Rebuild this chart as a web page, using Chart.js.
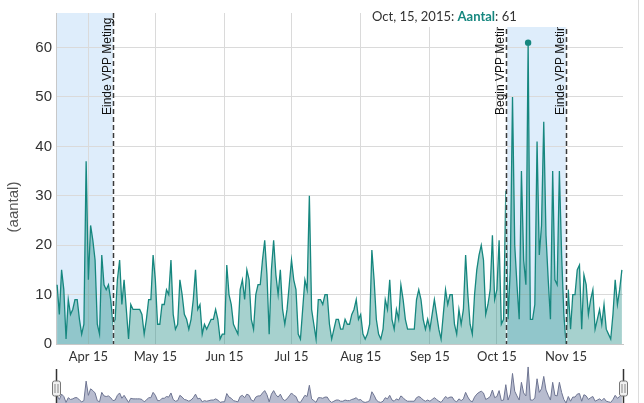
<!DOCTYPE html>
<html>
<head>
<meta charset="utf-8">
<script src="https://cdn.jsdelivr.net/npm/chart.js@4.4.0/dist/chart.umd.min.js"></script>
<style>
  html, body { margin: 0; padding: 0; background: #fff; overflow: hidden; }
  #wrap { position: relative; width: 644px; height: 403px; }
  #main { position: absolute; left: 0; top: 0; }
  #range { position: absolute; left: 0; top: 364px; }
  #edge { position: absolute; left: 638px; top: 0; width: 1px; height: 403px; background: #dcdcdc; }
</style>
</head>
<body>
<div id="wrap">
  <canvas id="main" width="644" height="364"></canvas>
  <canvas id="range" width="644" height="39"></canvas>
  <div id="edge"></div>
</div>
<script>
// daily counts, starting at startDate
const startDate = '2015-04-01';
const aantal = [
  12, 6, 15, 11, 1, 9, 6, 7, 9, 9, 5, 2, 4, 37,
  13, 24, 21, 17, 4, 2, 18, 12, 11, 12, 9, 4, 5, 13, 17, 8, 13, 7, 1, 8,
  7, 7, 7, 7, 6, 2, 5, 9, 9, 18, 13, 4, 4, 8, 8, 11, 10, 17, 6, 3, 4, 13, 10, 6, 5, 3, 5, 9, 15, 7,
  8, 2, 4, 3, 4, 5, 5, 7, 5, 1, 2, 2, 16, 10, 8, 4, 3, 2, 11, 13,
  9, 15, 13, 5, 3, 10, 12, 12, 17, 21, 14, 2, 15, 21,
  14, 10, 15, 7, 4, 7, 12, 17, 13, 11, 2, 1, 7, 13, 11,
  30, 7, 4, 1, 9, 9, 8, 10, 10, 4, 1, 3,
  5, 5, 3, 3, 5, 4, 4, 6, 7, 9, 5, 6, 2, 1, 2, 4, 19, 13, 5, 2, 1, 3, 9, 7, 13, 5, 3, 7, 5, 12, 9, 5, 3, 3, 3, 3, 9, 11,
  9, 5, 3, 5, 3, 6, 9, 6, 3, 1, 6, 11, 8, 10, 10, 4, 2, 7, 4, 7, 18, 10, 4, 2, 10, 15, 18, 20, 17, 6, 8, 11, 22, 9, 11, 21, 4, 5,
  31, 5, 15, 50, 20, 12, 5, 35, 17, 12, 61, 5, 5, 8, 41, 18, 24, 45, 22, 13, 5, 35, 13, 12, 35, 18, 6, 0,
  11, 3, 10, 10, 15, 16, 3, 14, 12, 6, 9, 11, 3, 5, 7, 4, 8, 3, 2, 1, 6, 13, 8, 11, 15
];
const tickDates = ['2015-04-15', '2015-05-15', '2015-06-15', '2015-07-15', '2015-08-15', '2015-09-15', '2015-10-15', '2015-11-15'];
const tickLabels = ['Apr 15', 'May 15', 'Jun 15', 'Jul 15', 'Aug 15', 'Sep 15', 'Oct 15', 'Nov 15'];
const yTicks = [0, 10, 20, 30, 40, 50, 60];
const vppDates = ['2015-04-26', '2015-10-19', '2015-11-15'];
const vppLabels = ['Einde VPP Meting', 'Begin VPP Meting', 'Einde VPP Meting'];
const vppPeriods = [['2015-04-01', '2015-04-26'], ['2015-10-19', '2015-11-15']];
const highlightDate = '2015-10-29';
const legendDate = 'Oct, 15, 2015';
const seriesName = 'Aantal';
const yTitle = '(aantal)';

const lineColor = '#16877f';

function dayIndex(d) {
  return Math.round((Date.parse(d) - Date.parse(startDate)) / 86400000);
}

const points = aantal.map((v, i) => ({ x: i, y: v }));
const tickDays = tickDates.map(dayIndex);
const hiIdx = dayIndex(highlightDate);
const xMin = -0.5, xMax = aantal.length - 0.5;

const vppPlugin = {
  id: 'vpp',
  beforeDraw(chart) {
    const ctx = chart.ctx, a = chart.chartArea, x = chart.scales.x;
    ctx.save();
    ctx.fillStyle = '#deedfb';
    vppPeriods.forEach(p => {
      let x1 = dayIndex(p[0]) <= 0 ? a.left : x.getPixelForValue(dayIndex(p[0]));
      let x2 = x.getPixelForValue(dayIndex(p[1]));
      ctx.fillRect(x1, a.top, x2 - x1, a.bottom - a.top);
    });
    ctx.restore();
  },
  afterDatasetsDraw(chart) {
    const ctx = chart.ctx, a = chart.chartArea, x = chart.scales.x;
    ctx.save();
    vppDates.forEach((d, i) => {
      const px = Math.round(x.getPixelForValue(dayIndex(d))) + 0.5;
      ctx.setLineDash([]);
      ctx.strokeStyle = 'rgba(255,255,255,0.8)';
      ctx.lineWidth = 1.5;
      ctx.beginPath(); ctx.moveTo(px, a.top); ctx.lineTo(px, a.bottom); ctx.stroke();
      ctx.setLineDash([5, 3]);
      ctx.strokeStyle = '#3a3a3a';
      ctx.beginPath(); ctx.moveTo(px, a.top); ctx.lineTo(px, a.bottom); ctx.stroke();
      ctx.save();
      ctx.translate(px - 2.5, 115);
      ctx.rotate(-Math.PI / 2);
      ctx.fillStyle = '#111';
      ctx.font = '12px "Liberation Sans", Arial, sans-serif';
      ctx.textAlign = 'left';
      ctx.textBaseline = 'alphabetic';
      ctx.fillText(vppLabels[i], 0, 0);
      ctx.restore();
    });
    ctx.restore();
  },
  afterDraw(chart) {
    const ctx = chart.ctx;
    ctx.save();
    // legend box over the top of the plot
    ctx.fillStyle = '#fff';
    ctx.fillRect(366, 0, 258, 27);
    ctx.textBaseline = 'alphabetic';
    let tx = 372;
    const ty = 21;
    ctx.font = '13px Lato, sans-serif';
    ctx.fillStyle = '#333';
    const t1 = legendDate + ': ';
    ctx.fillText(t1, tx, ty);
    tx += ctx.measureText(t1).width;
    ctx.font = 'bold 13px Lato, sans-serif';
    ctx.fillStyle = lineColor;
    ctx.fillText(seriesName, tx, ty);
    tx += ctx.measureText(seriesName).width;
    ctx.font = '13px Lato, sans-serif';
    ctx.fillStyle = '#333';
    ctx.fillText(': ' + aantal[hiIdx], tx, ty);
    // y axis label
    ctx.translate(14, 207);
    ctx.rotate(-Math.PI / 2);
    ctx.textAlign = 'center';
    ctx.textBaseline = 'middle';
    ctx.font = '15px "Liberation Sans", Arial, sans-serif';
    ctx.fillStyle = '#555';
    ctx.fillText(yTitle, 0, 0);
    ctx.restore();
  }
};

new Chart(document.getElementById('main'), {
  type: 'line',
  data: {
    datasets: [{
      data: points,
      borderColor: lineColor,
      borderWidth: 1.3,
      backgroundColor: 'rgba(22,135,127,0.38)',
      fill: 'origin',
      tension: 0,
      pointRadius: c => c.dataIndex === hiIdx ? 3.2 : 0,
      pointBackgroundColor: lineColor,
      pointBorderWidth: 0
    }]
  },
  options: {
    responsive: false,
    animation: false,
    events: [],
    layout: { padding: { top: 8, right: 21, left: 0, bottom: 0 } },
    plugins: { legend: { display: false }, tooltip: { enabled: false } },
    scales: {
      x: {
        type: 'linear',
        min: xMin,
        max: xMax,
        afterBuildTicks: s => { s.ticks = tickDays.map(v => ({ value: v })); },
        afterFit: s => { s.height = 20; },
        grid: { color: '#dadada', drawTicks: false },
        border: { color: '#c8c8c8' },
        ticks: {
          autoSkip: false,
          maxRotation: 0,
          padding: 5,
          color: '#333',
          font: { family: 'Lato', size: 13 },
          callback: (v, i) => tickLabels[i]
        }
      },
      y: {
        min: 0,
        max: 67,
        afterBuildTicks: s => { s.ticks = yTicks.map(v => ({ value: v })); },
        afterFit: s => { s.width = 56; },
        grid: { color: '#dadada', drawTicks: false },
        border: { color: '#c8c8c8' },
        ticks: {
          padding: 4,
          color: '#333',
          font: { family: 'Liberation Sans', size: 15 }
        }
      }
    }
  },
  plugins: [vppPlugin]
});

const handlePlugin = {
  id: 'handles',
  afterDraw(chart) {
    const ctx = chart.ctx, a = chart.chartArea;
    ctx.save();
    [a.left, a.right].forEach(hx => {
      const px = Math.round(hx) + 0.5;
      ctx.strokeStyle = '#333';
      ctx.lineWidth = 1.5;
      ctx.beginPath(); ctx.moveTo(px, 5); ctx.lineTo(px, 39); ctx.stroke();
      ctx.lineWidth = 1;
      ctx.fillStyle = '#f0f0f0';
      ctx.strokeStyle = '#777';
      ctx.beginPath();
      ctx.roundRect(px - 4, 17, 8, 15, 2);
      ctx.fill(); ctx.stroke();
      ctx.strokeStyle = '#888';
      ctx.beginPath();
      ctx.moveTo(px - 1.5, 20); ctx.lineTo(px - 1.5, 29);
      ctx.moveTo(px + 1.5, 20); ctx.lineTo(px + 1.5, 29);
      ctx.stroke();
    });
    ctx.restore();
  }
};

new Chart(document.getElementById('range'), {
  type: 'line',
  data: {
    datasets: [{
      data: points,
      borderColor: '#6e7592',
      borderWidth: 1,
      backgroundColor: '#b8bccf',
      fill: 'origin',
      tension: 0,
      pointRadius: 0
    }]
  },
  options: {
    responsive: false,
    animation: false,
    events: [],
    layout: { padding: { left: 56, right: 21, top: 0, bottom: 0 } },
    plugins: { legend: { display: false }, tooltip: { enabled: false } },
    scales: {
      x: { type: 'linear', display: false, min: xMin, max: xMax },
      y: { display: false, min: 0, max: 66 }
    }
  },
  plugins: [handlePlugin]
});
</script>
</body>
</html>
